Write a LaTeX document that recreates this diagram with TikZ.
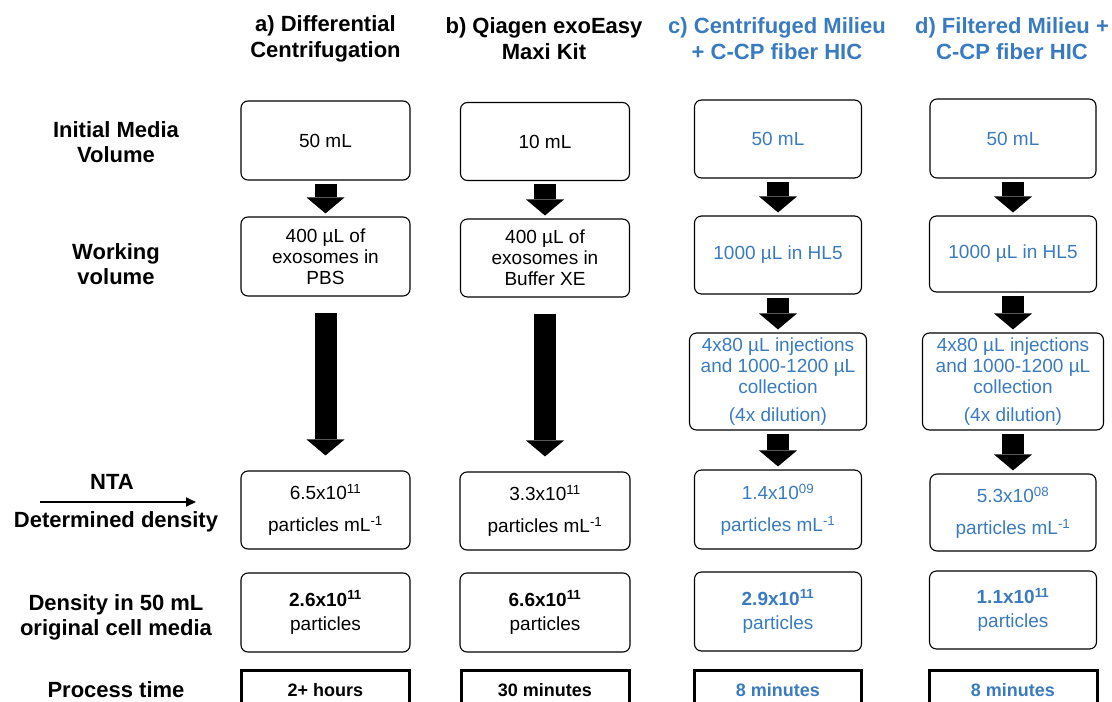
\documentclass[tikz,border=0pt]{standalone}
\usepackage{fontspec}
\setmainfont{Liberation Sans}
\usetikzlibrary{arrows.meta}
\definecolor{hicblue}{HTML}{3A7BC0}
\begin{document}
\begin{tikzpicture}[x=1pt,y=-1pt,
  box/.style={draw, rounded corners=7pt, line width=1.1pt, align=center, inner sep=0pt,
    font=\fontsize{19}{21}\selectfont},
  proc/.style={draw, line width=3pt, align=center, inner sep=0pt, minimum height=40pt,
    font=\fontsize{18}{21}\selectfont\bfseries},
  head/.style={align=center, font=\fontsize{22}{26}\selectfont\bfseries},
  rowlab/.style={align=center, font=\fontsize{22}{25}\selectfont\bfseries},
  blk/.style={line width=22pt, -{Triangle[width=38pt,length=16pt,line width=0pt]},
    shorten <=3pt, shorten >=3pt},
  blklong/.style={blk, shorten <=16pt, shorten >=15pt},
  hb/.style={text=hicblue}
]
\useasboundingbox (0,0) rectangle (1112,702);
\clip (0,0) rectangle (1112,702);

% headers
\node[head] (ha) at (325.5,39) {a) Differential\\Centrifugation};
\node[head] (hb) at (544,39) {b) Qiagen exoEasy\\Maxi Kit};
\node[head, hb] (hc) at (777,39) {c) Centrifuged Milieu\\+ C-CP fiber HIC};
\node[head, hb] (hd) at (1012,39) {d) Filtered Milieu +\\C-CP fiber HIC};

% row labels
\node[rowlab] (r1) at (116,142.5) {Initial Media\\Volume};
\node[rowlab] (r2) at (116,264) {Working\\volume};
\node[rowlab] (r3a) at (112,482) {NTA};
\node[rowlab] (r3b) at (116,522) {Determined density};
\node[rowlab] (r4) at (116,617.5) {Density in 50 mL\\original cell media};
\node[rowlab] (r5) at (116,690) {Process time};
\coordinate (n0) at (40,502);
\coordinate (n1) at (196,502);
\draw[line width=2pt, -{Triangle[width=9pt,length=10pt]}] (n0) -- (n1);

% column a
\node[box, minimum width=169pt, minimum height=79pt] (a1) at (325.5,140.5) {50 mL};
\node[box, minimum width=169pt, minimum height=79pt] (a2) at (325.5,256.5) {400 µL of\\exosomes in\\PBS};
\node[box, minimum width=169pt, minimum height=78pt] (a3) at (325.5,510) {6.5x10\textsuperscript{11}\\[11pt]particles mL\textsuperscript{-1}};
\node[box, minimum width=169pt, minimum height=79pt] (a4) at (325.5,612.5) {\textbf{2.6x10\textsuperscript{11}}\\[3pt]particles};
\node[proc, minimum width=168pt] (a5) at (325.5,690) {2+ hours};
\draw[blk] (a1) -- (a2);
\draw[blklong] (a2) -- (a3);

% column b
\node[box, minimum width=169pt, minimum height=78pt] (b1) at (545,141.5) {10 mL};
\node[box, minimum width=169pt, minimum height=78pt] (b2) at (545,258) {400 µL of\\exosomes in\\Buffer XE};
\node[box, minimum width=170pt, minimum height=78pt] (b3) at (545,511) {3.3x10\textsuperscript{11}\\[11pt]particles mL\textsuperscript{-1}};
\node[box, minimum width=170pt, minimum height=79pt] (b4) at (545,612.5) {\textbf{6.6x10\textsuperscript{11}}\\[3pt]particles};
\node[proc, minimum width=168pt] (b5) at (545,690) {30 minutes};
\draw[blk] (b1) -- (b2);
\draw[blklong] (b2) -- (b3);

% column c
\node[box, hb, minimum width=167pt, minimum height=78pt] (c1) at (778,139) {50 mL};
\node[box, hb, minimum width=167pt, minimum height=78pt] (c2) at (778,255) {1000 µL in HL5};
\node[box, hb, minimum width=177pt, minimum height=97pt] (c3) at (778,381.5) {4x80 µL injections\\and 1000-1200 µL\\collection\\[7pt](4x dilution)};
\node[box, hb, minimum width=167pt, minimum height=79pt] (c4) at (778,509.5) {1.4x10\textsuperscript{09}\\[11pt]particles mL\textsuperscript{-1}};
\node[box, hb, minimum width=167pt, minimum height=79pt] (c5) at (778,611.5) {\textbf{2.9x10\textsuperscript{11}}\\[3pt]particles};
\node[proc, hb, draw=black, minimum width=167pt] (c6) at (778,690) {8 minutes};
\draw[blk] (c1) -- (c2);
\draw[blk] (c2) -- (c3);
\draw[blk] (c3) -- (c4);

% column d
\node[box, hb, minimum width=166pt, minimum height=79pt] (d1) at (1013,138.5) {50 mL};
\node[box, hb, minimum width=167pt, minimum height=76pt] (d2) at (1013,254) {1000 µL in HL5};
\node[box, hb, minimum width=181pt, minimum height=97pt] (d3) at (1013,381.5) {4x80 µL injections\\and 1000-1200 µL\\collection\\[7pt](4x dilution)};
\node[box, hb, minimum width=166pt, minimum height=77pt] (d4) at (1013,512.5) {5.3x10\textsuperscript{08}\\[11pt]particles mL\textsuperscript{-1}};
\node[box, hb, minimum width=167pt, minimum height=78pt] (d5) at (1013,610) {\textbf{1.1x10\textsuperscript{11}}\\[3pt]particles};
\node[proc, hb, draw=black, minimum width=168pt] (d6) at (1013,690) {8 minutes};
\draw[blk] (d1) -- (d2);
\draw[blk] (d2) -- (d3);
\draw[blk] (d3) -- (d4);
\end{tikzpicture}
\end{document}
